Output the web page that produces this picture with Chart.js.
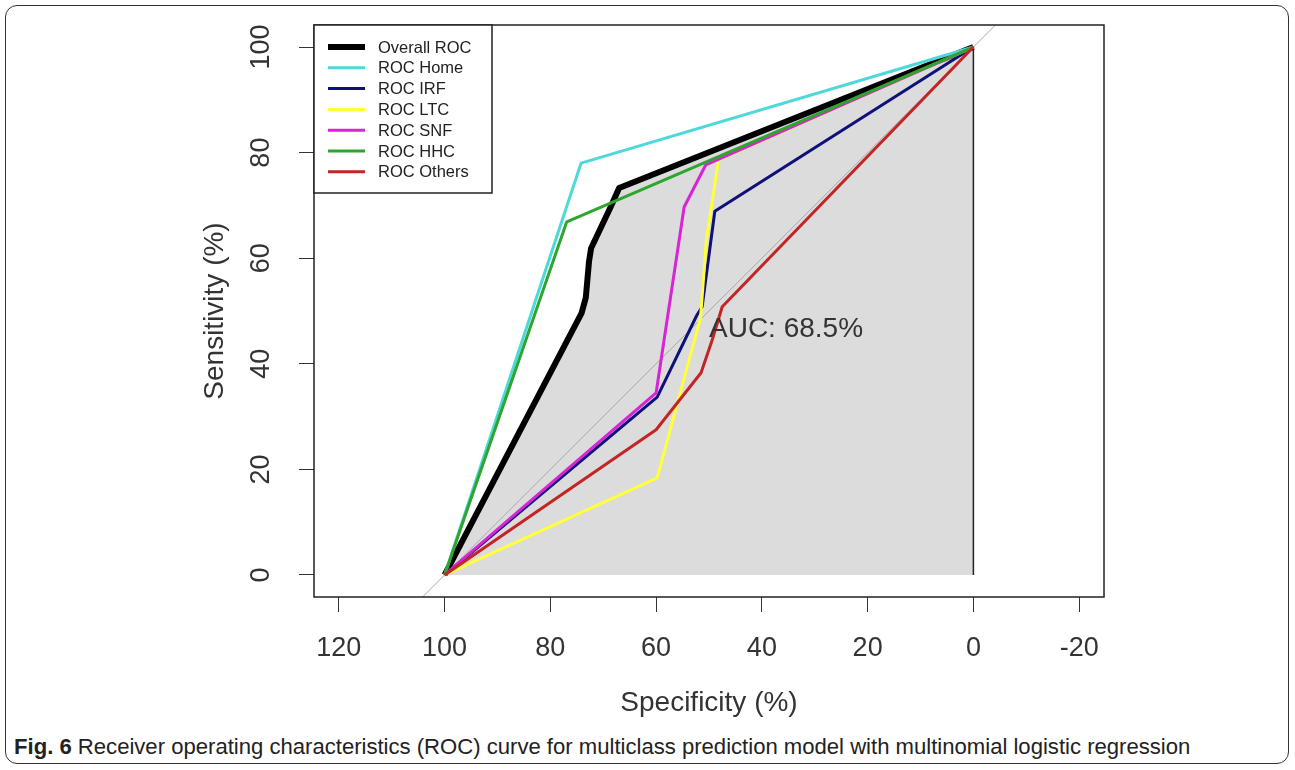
<!DOCTYPE html>
<html>
<head>
<meta charset="utf-8">
<script src="https://cdn.jsdelivr.net/npm/chart.js@4.4.1/dist/chart.umd.min.js"></script>
<style>
    body { margin: 0; background: #fff; }
    .frame { position: absolute; left: 5px; top: 5px; width: 1282px; height: 757px; border: 1.5px solid #333; border-radius: 12px; }
    #rocChart { position: absolute; left: 0; top: 0; }
    .caption { position: absolute; left: 14px; top: 734px; font-family: "Liberation Sans", Arial, sans-serif; font-size: 22.1px; color: #222; white-space: nowrap; }
</style>
</head>
<body>
<div class="frame"></div>
<canvas id="rocChart" width="1295" height="730"></canvas>
<div class="caption"><b>Fig. 6</b> Receiver operating characteristics (ROC) curve for multiclass prediction model with multinomial logistic regression</div>
<script>
// specificity / sensitivity (%)
const overallSpec = [100, 74.1, 73.3, 72.7, 72.3, 68.6, 67.0, 0];
const overallSens = [0, 49.6, 52.5, 59.3, 61.9, 69.7, 73.3, 100];
const homeSpec = [100, 74.2, 0];
const homeSens = [0, 78.0, 100];
const irfSpec = [100, 59.8, 52.3, 51.3, 48.9, 0];
const irfSens = [0, 33.7, 49.2, 50.8, 68.9, 100];
const ltcSpec = [100, 59.8, 51.6, 50.5, 48.2, 0];
const ltcSens = [0, 18.4, 48.7, 63.4, 78.6, 100];
const snfSpec = [100, 60.0, 54.7, 50.6, 0];
const snfSens = [0, 34.5, 69.7, 77.7, 100];
const hhcSpec = [100, 76.9, 0];
const hhcSens = [0, 66.9, 100];
const othersSpec = [100, 60.0, 51.5, 49.4, 47.5, 0];
const othersSens = [0, 27.5, 38.3, 44.5, 50.8, 100];

const curveLabels = ['Overall ROC', 'ROC Home', 'ROC IRF', 'ROC LTC', 'ROC SNF', 'ROC HHC', 'ROC Others'];
const curveColors = ['#000000', '#4dd9d9', '#10107a', '#ffff3a', '#d624d6', '#2ea52e', '#c42424'];

const identitySpec = [110, -10];
const identitySens = [-10, 110];

const xTicks = [120, 100, 80, 60, 40, 20, 0, -20];
const yTicks = [0, 20, 40, 60, 80, 100];
const aucText = 'AUC: 68.5%';

const toPoints = (xs, ys) => xs.map((x, i) => ({ x: x, y: ys[i] }));

// polygon under the overall curve, closed along the axes
const polySpec = overallSpec.concat([0]);
const polySens = overallSens.concat([0]);

const curves = [
    [overallSpec, overallSens], [homeSpec, homeSens], [irfSpec, irfSens], [ltcSpec, ltcSens],
    [snfSpec, snfSens], [hhcSpec, hhcSens], [othersSpec, othersSens]
];

// higher "order" is drawn first (underneath)
const datasets = [
    {
        label: 'auc',
        data: toPoints(polySpec, polySens),
        showLine: true,
        fill: 'shape',
        backgroundColor: '#dcdcdc',
        borderColor: '#222',
        borderWidth: 1.5,
        pointRadius: 0,
        order: 20
    },
    {
        label: 'identity',
        data: toPoints(identitySpec, identitySens),
        showLine: true,
        borderColor: '#a9a9a9',
        borderWidth: 1,
        pointRadius: 0,
        order: 19
    }
];
curves.forEach((c, i) => {
    datasets.push({
        label: curveLabels[i],
        data: toPoints(c[0], c[1]),
        showLine: true,
        borderColor: curveColors[i],
        borderWidth: i === 0 ? 6 : 3,
        borderJoinStyle: 'round',
        pointRadius: 0,
        order: 10 - i
    });
});

const FONT = '"Liberation Sans", Arial, sans-serif';

const extras = {
    id: 'extras',
    afterDraw(chart) {
        const { ctx, chartArea: a, scales } = chart;
        ctx.save();

        // AUC text
        ctx.fillStyle = '#333';
        ctx.font = '28px ' + FONT;
        ctx.textAlign = 'left';
        ctx.textBaseline = 'alphabetic';
        ctx.fillText(aucText, scales.x.getPixelForValue(50), scales.y.getPixelForValue(45));

        // y tick labels, rotated like R
        yTicks.forEach(v => {
            ctx.save();
            ctx.translate(262, scales.y.getPixelForValue(v));
            ctx.rotate(-Math.PI / 2);
            ctx.textAlign = 'center';
            ctx.textBaseline = 'middle';
            ctx.font = '27px ' + FONT;
            ctx.fillText(String(v), 0, 0);
            ctx.restore();
        });

        // plot box
        ctx.strokeStyle = '#222';
        ctx.lineWidth = 1.5;
        ctx.strokeRect(a.left, a.top, a.right - a.left, a.bottom - a.top);

        // legend
        const lx = a.left, ly = a.top, lw = 178, lh = 168;
        ctx.fillStyle = '#fff';
        ctx.fillRect(lx, ly, lw, lh);
        ctx.strokeRect(lx, ly, lw, lh);
        ctx.font = '16.5px ' + FONT;
        ctx.textBaseline = 'middle';
        curveLabels.forEach((lab, i) => {
            const yy = ly + 22 + i * 20.8;
            ctx.strokeStyle = curveColors[i];
            ctx.lineWidth = i === 0 ? 6 : 3;
            ctx.beginPath();
            ctx.moveTo(lx + 14, yy);
            ctx.lineTo(lx + 51, yy);
            ctx.stroke();
            ctx.fillStyle = '#222';
            ctx.fillText(lab, lx + 64, yy + 1);
        });
        ctx.restore();
    }
};

new Chart(document.getElementById('rocChart'), {
    type: 'scatter',
    data: { datasets: datasets },
    plugins: [extras],
    options: {
        responsive: false,
        animation: false,
        devicePixelRatio: 1,
        layout: { padding: { left: 0, top: 25, right: 191, bottom: 0 } },
        plugins: { legend: { display: false }, tooltip: { enabled: false } },
        scales: {
            x: {
                type: 'linear',
                reverse: true,
                min: -24.7,
                max: 124.7,
                afterBuildTicks: s => { s.ticks = xTicks.map(v => ({ value: v })); },
                afterFit: s => { s.height = 133; },
                ticks: { font: { family: FONT, size: 27 }, color: '#333', padding: 20, maxRotation: 0 },
                grid: { drawOnChartArea: false, drawTicks: true, tickLength: 15, color: '#333' },
                border: { display: false },
                title: { display: true, text: 'Specificity (%)', font: { family: FONT, size: 28 }, color: '#333', padding: { bottom: 10 } }
            },
            y: {
                type: 'linear',
                min: -4.17,
                max: 104.17,
                afterBuildTicks: s => { s.ticks = yTicks.map(v => ({ value: v })); },
                afterFit: s => { s.width = 314; },
                ticks: { display: false },
                grid: { drawOnChartArea: false, drawTicks: true, tickLength: 15, color: '#333' },
                border: { display: false },
                title: { display: true, text: 'Sensitivity (%)', font: { family: FONT, size: 28 }, color: '#333', padding: { top: 198 } }
            }
        }
    }
});
</script>
</body>
</html>
